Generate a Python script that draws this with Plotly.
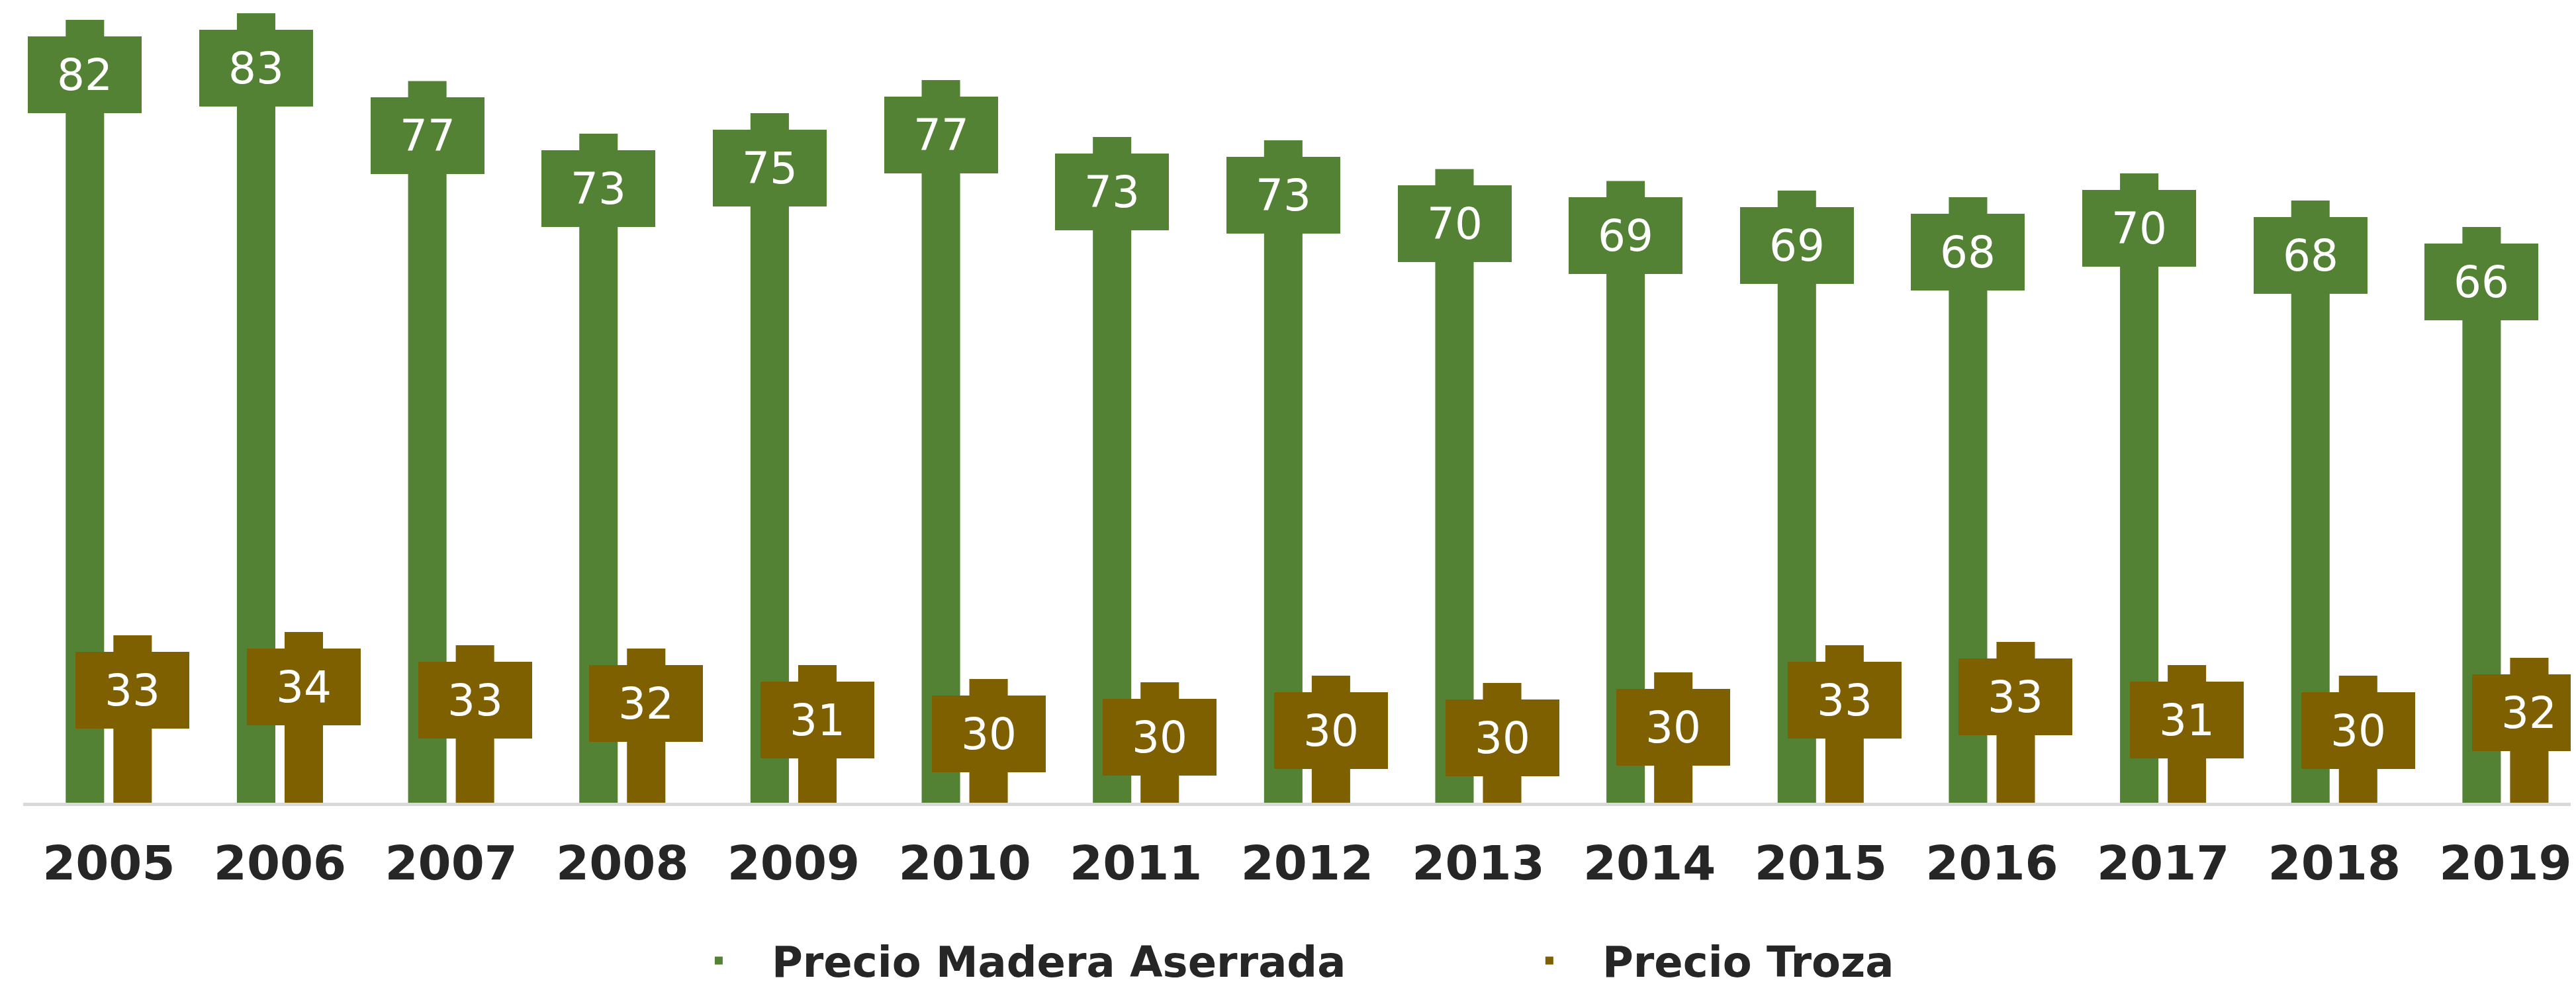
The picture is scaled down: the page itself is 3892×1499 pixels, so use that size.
import plotly.graph_objects as go

years = ["2005", "2006", "2007", "2008", "2009", "2010", "2011", "2012",
         "2013", "2014", "2015", "2016", "2017", "2018", "2019"]
madera = [82.26, 82.79, 77.4, 73.21, 74.84, 77.47, 72.95, 72.68,
          70.4, 69.45, 68.68, 68.16, 70.05, 67.89, 65.79]
troza = [33.32, 33.58, 32.53, 32.26, 30.95, 29.84, 29.58, 30.1,
         29.52, 30.37, 32.53, 32.79, 30.95, 30.1, 31.52]

GREEN = "#548235"
BROWN = "#7f6000"
FONT = "DejaVu Sans"
BARGAP = 0.443
GROUPGAP = 0.194

fig = go.Figure()
fig.add_trace(go.Bar(x=years, y=madera, name="Precio Madera Aserrada",
                     marker=dict(color=GREEN, line=dict(width=0))))
fig.add_trace(go.Bar(x=years, y=troza, name="Precio Troza",
                     marker=dict(color=BROWN, line=dict(width=0))))

slot = (1 - BARGAP) / 2
annotations = []
for series, color, off in ((madera, GREEN, -slot / 2), (troza, BROWN, slot / 2)):
    for i, v in enumerate(series):
        annotations.append(dict(
            x=i + off, y=v, xref="x", yref="y",
            text=f"{v:.0f}", showarrow=False,
            xanchor="center", yanchor="top", yshift=-25,
            width=172, height=116, borderpad=0, borderwidth=0,
            bgcolor=color, align="center", valign="middle",
            font=dict(family=FONT, size=66, color="white"),
        ))

fig.update_layout(
    width=3892, height=1499,
    barmode="group", bargap=BARGAP, bargroupgap=GROUPGAP,
    paper_bgcolor="white", plot_bgcolor="white",
    margin=dict(l=27, r=0, t=0, b=294, autoexpand=False),
    annotations=annotations,
    showlegend=True,
    legend=dict(orientation="h", x=0.2512, xanchor="left", y=-0.158, yanchor="top",
                font=dict(family=FONT, size=64, color="#262626", weight="bold"),
                itemwidth=150, entrywidth=1090, entrywidthmode="pixels",
                bgcolor="rgba(0,0,0,0)", traceorder="normal"),
    xaxis=dict(type="category", range=[-0.5, 14.443], showline=True,
               linecolor="#d9d9d9", linewidth=5, ticks="", showgrid=False,
               tickfont=dict(family=FONT, size=72, color="#262626", weight="bold"),
               ticklabelstandoff=25, automargin=False, fixedrange=True),
    yaxis=dict(range=[20, 83.42], visible=False, showgrid=False,
               zeroline=False, automargin=False, fixedrange=True),
)

fig.write_html("out.html")
